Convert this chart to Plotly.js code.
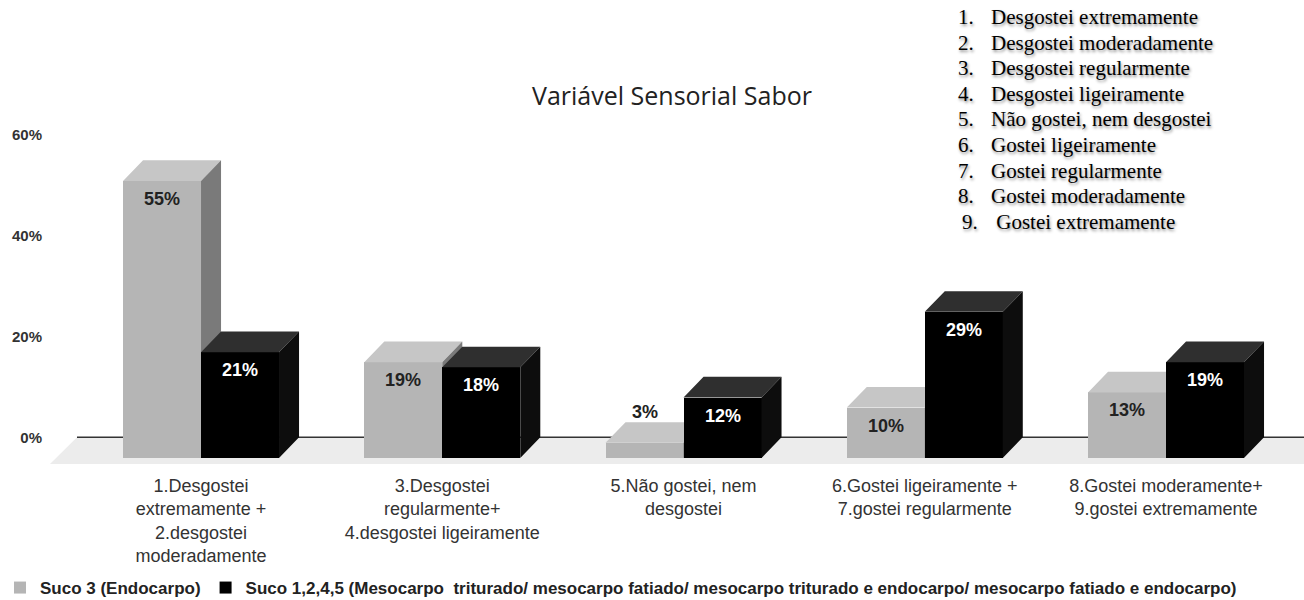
<!DOCTYPE html>
<html>
<head>
<meta charset="utf-8">
<script src="https://cdn.plot.ly/plotly-3.0.1.min.js"></script>
<style>html,body{margin:0;padding:0;background:#fff;}#chart{width:1304px;height:600px;}</style>
</head>
<body>
<div id="chart"></div>
<script>
// ---- data ----
const categories = [
  '1.Desgostei<br>extremamente +<br>2.desgostei<br>moderadamente',
  '3.Desgostei<br>regularmente+<br>4.desgostei ligeiramente',
  '5.Não gostei, nem<br>desgostei',
  '6.Gostei ligeiramente +<br>7.gostei regularmente',
  '8.Gostei moderamente+<br>9.gostei extremamente'
];
const suco3 = [55, 19, 3, 10, 13];
const suco1245 = [21, 18, 12, 29, 19];
const seriesNames = [
  'Suco 3 (Endocarpo)',
  'Suco 1,2,4,5 (Mesocarpo  triturado/ mesocarpo fatiado/ mesocarpo triturado e endocarpo/ mesocarpo fatiado e endocarpo)'
];
const yTicks = [0, 20, 40, 60];
const yTickText = ['0%', '20%', '40%', '60%'];
const listNums = ['1.', '2.', '3.', '4.', '5.', '6.', '7.', '8.', '9.'];
const listItems = [
  'Desgostei extremamente',
  'Desgostei moderadamente',
  'Desgostei regularmente',
  'Desgostei ligeiramente',
  'Não gostei, nem desgostei',
  'Gostei ligeiramente',
  'Gostei regularmente',
  'Gostei moderadamente',
  ' Gostei extremamente'
];

// ---- style / geometry ----
const barW = 0.3233;   // bar width in category units
const dx = 0.083;      // 3D depth, x (category units)
const D = 4.1;         // 3D depth, y (percent units)
const idx = categories.map((c, i) => i);

const colors = {
  grayFront: '#b5b5b5', grayTop: '#c6c6c6', graySide: '#7a7a7a',
  blackFront: '#000000', blackTop: '#2f2f2f', blackSide: '#0d0d0d'
};

function faces(vals, off) {
  const top = {x: [], y: []}, side = {x: [], y: []};
  vals.forEach((v, i) => {
    const xL = i + off, xR = xL + barW;
    top.x.push(xL, xR, xR + dx, xL + dx, xL, null);
    top.y.push(v - D, v - D, v, v, v - D, null);
    side.x.push(xR, xR, xR + dx, xR + dx, xR, null);
    side.y.push(-D, v - D, v, 0, -D, null);
  });
  return {top, side};
}
function poly(f, color, xa, ya) {
  return {type: 'scatter', mode: 'lines', x: f.x, y: f.y, fill: 'toself',
    fillcolor: color, line: {width: 0, color: color}, hoverinfo: 'skip',
    showlegend: false, xaxis: xa, yaxis: ya};
}

const gF = faces(suco3, -barW);
const bF = faces(suco1245, 0);

const data = [
  {type: 'bar', name: seriesNames[0], x: idx, y: suco3, base: -D, width: barW, offset: -barW,
   marker: {color: colors.grayFront, line: {width: 0}}, hoverinfo: 'skip', xaxis: 'x', yaxis: 'y'},
  poly(gF.top, colors.grayTop, 'x', 'y'),
  poly(gF.side, colors.graySide, 'x', 'y'),
  {type: 'bar', name: seriesNames[1], x: idx, y: suco1245, base: -D, width: barW, offset: 0,
   marker: {color: colors.blackFront, line: {width: 0}}, hoverinfo: 'skip', xaxis: 'x2', yaxis: 'y2'},
  poly(bF.top, colors.blackTop, 'x2', 'y2'),
  poly(bF.side, colors.blackSide, 'x2', 'y2')
];

// value labels
const annotations = [];
function addLabels(vals, off, color) {
  vals.forEach((v, i) => {
    const small = v < 6;
    annotations.push({
      x: i + off + barW / 2, y: small ? v : v - D, xref: 'x', yref: 'y',
      yshift: small ? 10 : -18, showarrow: false, text: v + '%',
      font: {family: 'Liberation Sans, Arial', size: 18, weight: 'bold', color: small ? '#222' : color},
      xanchor: 'center', yanchor: 'middle'
    });
  });
}
addLabels(suco3, -barW, '#222');
addLabels(suco1245, 0, '#ffffff');

// numbered list (top right)
const plotTop = 125, plotH = 340;
function paperY(px) { return (plotTop + plotH - px) / plotH; }
function paperX(px) { return (px - 50) / 1254; }
listItems.forEach((t, i) => {
  const ypx = 17 + i * 25.6;
  const shadow = '1px 2px 3px rgba(0,0,0,0.45)';
  annotations.push({x: paperX(i === 8 ? 960 : 956), y: paperY(ypx), xref: 'paper', yref: 'paper',
    xanchor: 'left', yanchor: 'middle', showarrow: false, text: listNums[i],
    font: {family: 'Liberation Serif, Times New Roman', size: 21, color: '#000', shadow: shadow}});
  annotations.push({x: paperX(989), y: paperY(ypx), xref: 'paper', yref: 'paper',
    xanchor: 'left', yanchor: 'middle', showarrow: false, text: t,
    font: {family: 'Liberation Serif, Times New Roman', size: 21, color: '#000', shadow: shadow}});
});

const xRange = [-0.626, 4.572];
const yRange = [-5.5, 62];

const layout = {
  width: 1304, height: 600,
  margin: {l: 50, r: 0, t: plotTop, b: 600 - plotTop - plotH},
  paper_bgcolor: '#ffffff', plot_bgcolor: 'rgba(0,0,0,0)',
  title: {text: 'Variável Sensorial Sabor', x: 672 / 1304, xref: 'container', xanchor: 'center',
    y: 1 - 96 / 600, yref: 'container', yanchor: 'middle',
    font: {family: 'Open Sans, Noto Sans', size: 25, color: '#222'}},
  xaxis: {type: 'linear', range: xRange, tickvals: idx, ticktext: categories, showgrid: false,
    zeroline: false, showline: false, ticks: '', ticklabelstandoff: 8,
    tickfont: {family: 'Liberation Sans, Arial', size: 18, color: '#333'}, fixedrange: true},
  yaxis: {range: yRange, tickvals: yTicks, ticktext: yTickText, showgrid: false, zeroline: false,
    showline: false, ticks: '', ticklabelstandoff: 7,
    tickfont: {family: 'Liberation Sans, Arial', size: 15, weight: 'bold', color: '#333'}, fixedrange: true},
  xaxis2: {type: 'linear', overlaying: 'x', anchor: 'y2', range: xRange, visible: false, fixedrange: true},
  yaxis2: {overlaying: 'y', anchor: 'x2', range: yRange, visible: false, fixedrange: true},
  shapes: [
    {type: 'path', xref: 'paper', yref: 'y', layer: 'below',
     path: 'M' + paperX(77) + ',0 L1,0 L1,-5.3 L0,-5.3 Z', fillcolor: '#ececec', line: {width: 0}},
    {type: 'line', xref: 'paper', yref: 'y', layer: 'below', x0: paperX(77), x1: 1, y0: 0, y1: 0,
     line: {color: '#333', width: 1.5}}
  ],
  showlegend: true,
  legend: {orientation: 'h', xref: 'container', yref: 'container', x: -3 / 1304, y: 1 - 588 / 600,
    xanchor: 'left', yanchor: 'middle', bgcolor: 'rgba(0,0,0,0)',
    font: {family: 'Liberation Sans, Arial', size: 17, weight: 'bold', color: '#222'}},
  bargap: 0, barmode: 'overlay',
  annotations: annotations
};

Plotly.newPlot('chart', data, layout, {displayModeBar: false, staticPlot: true});
</script>
</body>
</html>
